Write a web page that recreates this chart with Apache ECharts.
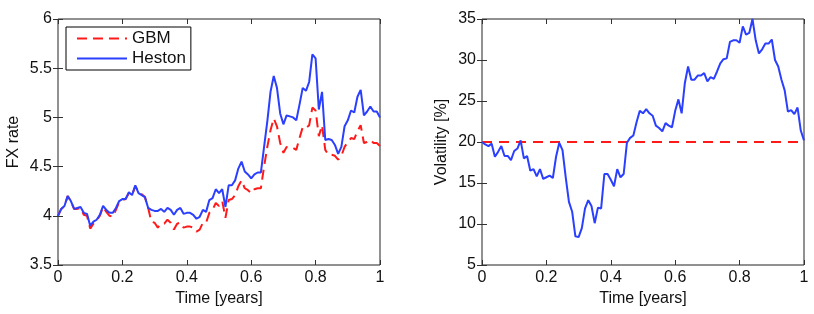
<!DOCTYPE html>
<html>
<head>
<meta charset="utf-8">
<script src="https://cdn.jsdelivr.net/npm/echarts@6/dist/echarts.min.js"></script>
<style>
html,body{margin:0;padding:0;background:#fff;}
#c{width:814px;height:314px;}
</style>
</head>
<body>
<div id="c"></div>
<script>
const times = [0,0.01,0.02,0.03,0.04,0.05,0.06,0.07,0.08,0.09,0.1,0.11,0.12,0.13,0.14,0.15,0.16,0.17,0.18,0.19,0.2,0.21,0.22,0.23,0.24,0.25,0.26,0.27,0.28,0.29,0.3,0.31,0.32,0.33,0.34,0.35,0.36,0.37,0.38,0.39,0.4,0.41,0.42,0.43,0.44,0.45,0.46,0.47,0.48,0.49,0.5,0.51,0.52,0.53,0.54,0.55,0.56,0.57,0.58,0.59,0.6,0.61,0.62,0.63,0.64,0.65,0.66,0.67,0.68,0.69,0.7,0.71,0.72,0.73,0.74,0.75,0.76,0.77,0.78,0.79,0.8,0.81,0.82,0.83,0.84,0.85,0.86,0.87,0.88,0.89,0.9,0.91,0.92,0.93,0.94,0.95,0.96,0.97,0.98,0.99,1];

const hestonFX = [4.00,4.07,4.10,4.20,4.15,4.07,4.08,4.09,4.03,4.02,3.90,3.94,3.96,4.01,4.10,4.06,4.03,4.03,4.08,4.15,4.17,4.17,4.24,4.21,4.31,4.23,4.21,4.19,4.08,4.06,4.05,4.05,4.07,4.04,4.08,4.06,4.01,4.06,4.08,4.02,4.03,4.03,4.01,3.97,3.99,4.06,4.04,4.16,4.18,4.27,4.23,4.27,4.09,4.31,4.31,4.36,4.48,4.55,4.45,4.42,4.38,4.42,4.44,4.44,4.70,4.96,5.26,5.42,5.30,5.04,4.93,5.02,5.01,5.00,4.97,5.13,5.30,5.27,5.36,5.64,5.60,5.08,5.26,4.77,4.78,4.77,4.72,4.63,4.70,4.91,4.97,5.07,5.05,5.21,5.28,5.02,5.06,5.11,5.06,5.06,5.00];

const gbmFX = [4.00,4.07,4.10,4.20,4.15,4.07,4.07,4.08,4.01,4.00,3.87,3.92,3.95,4.00,4.09,4.04,4.00,3.99,4.06,4.14,4.16,4.17,4.23,4.21,4.30,4.25,4.22,4.19,4.08,3.94,3.93,3.88,3.92,3.92,3.96,3.93,3.86,3.92,3.93,3.88,3.89,3.89,3.88,3.84,3.86,3.93,3.93,4.03,4.06,4.13,4.10,4.15,3.98,4.16,4.17,4.21,4.30,4.36,4.28,4.26,4.23,4.27,4.28,4.28,4.50,4.70,4.87,4.99,4.91,4.74,4.64,4.70,4.70,4.69,4.67,4.79,4.90,4.89,4.92,5.10,5.07,4.81,4.92,4.67,4.62,4.62,4.61,4.57,4.61,4.70,4.75,4.79,4.78,4.86,4.92,4.74,4.75,4.77,4.74,4.74,4.71];

const hestonVol = [20.0,19.7,19.5,19.8,18.2,18.8,19.5,18.3,18.3,17.8,18.9,19.2,20.2,18.0,18.3,16.5,16.7,15.8,16.7,15.5,15.7,15.9,15.6,18.2,19.9,19.0,15.7,12.7,11.5,8.5,8.4,9.5,11.9,12.9,12.2,10.1,12.0,11.9,16.1,16.1,15.4,14.6,16.7,15.7,16.1,19.9,20.5,20.8,22.4,23.8,23.5,24.0,23.5,23.2,22.0,21.7,21.3,22.3,22.0,21.8,23.8,25.2,23.5,27.2,29.2,27.6,27.6,28.1,28.1,28.4,27.4,27.9,27.7,28.6,29.6,30.1,30.2,32.2,32.4,32.4,32.1,34.1,33.1,33.3,35.0,32.4,30.8,31.3,32.0,32.0,32.5,30.0,29.2,27.6,26.3,23.7,23.9,23.4,24.2,21.4,20.2];

const gbmVolTimes = [0, 1];
const gbmVol = [20, 20];

const seriesNames = ['GBM', 'Heston'];

function pairs(xs, ys){ return xs.map((x,i)=>[x, ys[i]]); }

const font = '"Liberation Sans", Arial, sans-serif';
const BLUE = '#2b3fff';
const RED = '#ff1a1a';
const FS = 16;

function xAxes(gridIndex){
  return [{
    type:'value', gridIndex, min:0, max:1, interval:0.2, position:'bottom',
    name:'Time [years]', nameLocation:'middle', nameGap:21,
    nameTextStyle:{fontFamily:font,fontSize:FS,color:'#111'},
    axisLine:{show:false}, splitLine:{show:false},
    axisTick:{show:true,inside:true,length:5,lineStyle:{color:'#333'}},
    axisLabel:{fontFamily:font,fontSize:FS,color:'#111',margin:5}
  },{
    type:'value', gridIndex, min:0, max:1, interval:0.2, position:'top',
    axisLine:{show:false}, splitLine:{show:false}, axisLabel:{show:false},
    axisTick:{show:true,inside:true,length:5,lineStyle:{color:'#333'}}
  }];
}
function yAxes(gridIndex, min, max, interval, name, gap){
  return [{
    type:'value', gridIndex, min, max, interval, position:'left',
    name, nameLocation:'middle', nameGap:gap,
    nameTextStyle:{fontFamily:font,fontSize:FS,color:'#111'},
    axisLine:{show:false}, splitLine:{show:false},
    axisTick:{show:true,inside:true,length:5,lineStyle:{color:'#333'}},
    axisLabel:{fontFamily:font,fontSize:FS,color:'#111',margin:6}
  },{
    type:'value', gridIndex, min, max, interval, position:'right',
    axisLine:{show:false}, splitLine:{show:false}, axisLabel:{show:false},
    axisTick:{show:true,inside:true,length:5,lineStyle:{color:'#333'}}
  }];
}

const chart = echarts.init(document.getElementById('c'), null, {renderer:'canvas'});
chart.setOption({
  backgroundColor:'#fff',
  animation:false,
  grid:[
    {left:58, right:434, top:19, bottom:49, show:true, borderColor:'#222', borderWidth:1, backgroundColor:'#fff'},
    {left:482, right:10, top:19, bottom:49, show:true, borderColor:'#222', borderWidth:1, backgroundColor:'#fff'}
  ],
  xAxis: [...xAxes(0), ...xAxes(1)],
  yAxis: [...yAxes(0, 3.5, 6, 0.5, 'FX rate', 36), ...yAxes(1, 5, 35, 5, 'Volatility [%]', 32)],
  legend:{
    data: seriesNames,
    orient:'vertical', left:66, top:27,
    padding:[3,5,3,10], itemGap:3,
    itemWidth:50, itemHeight:16,
    borderColor:'#000', borderWidth:1, backgroundColor:'#fff',
    itemStyle:{opacity:0},
    textStyle:{fontFamily:font,fontSize:17,color:'#111'}
  },
  series:[
    {name:seriesNames[0], type:'line', xAxisIndex:0, yAxisIndex:0, data:pairs(times,gbmFX),
      symbol:'none', lineStyle:{color:RED,width:2,type:[10,6]}, itemStyle:{color:RED}, z:2},
    {name:seriesNames[1], type:'line', xAxisIndex:0, yAxisIndex:0, data:pairs(times,hestonFX),
      symbol:'none', lineStyle:{color:BLUE,width:2}, itemStyle:{color:BLUE}, z:3},
    {name:'VolGBM', type:'line', xAxisIndex:2, yAxisIndex:2, data:pairs(gbmVolTimes,gbmVol),
      symbol:'none', lineStyle:{color:RED,width:2,type:[10,7]}, itemStyle:{color:RED}, z:2},
    {name:'VolHeston', type:'line', xAxisIndex:2, yAxisIndex:2, data:pairs(times,hestonVol),
      symbol:'none', lineStyle:{color:BLUE,width:2}, itemStyle:{color:BLUE}, z:3}
  ]
});
</script>
</body>
</html>
